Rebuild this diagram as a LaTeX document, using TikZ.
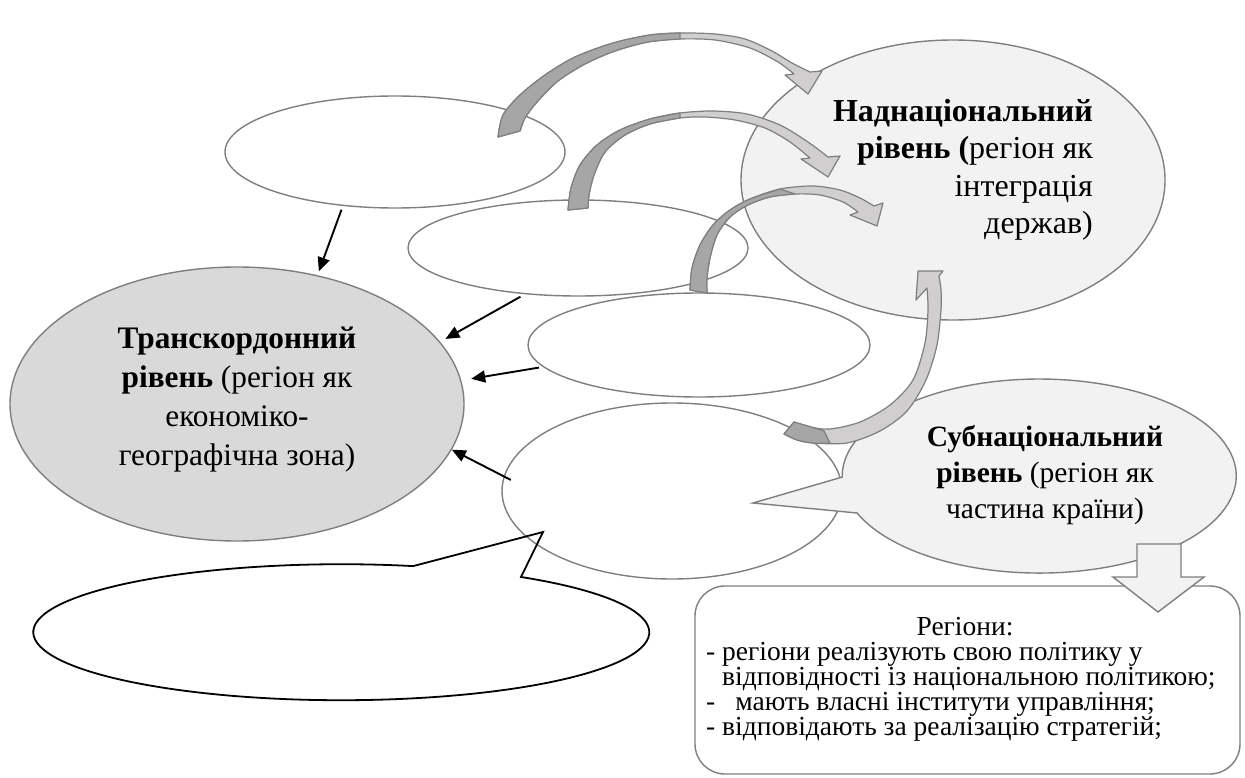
\documentclass[tikz,border=0pt]{standalone}
\usepackage{fontspec}
\setmainfont{Liberation Serif}
\usetikzlibrary{shapes.geometric,arrows.meta}
\definecolor{bord}{HTML}{7F7F7F}
\definecolor{lgray}{HTML}{F2F2F2}
\definecolor{mgray}{HTML}{D9D9D9}
\definecolor{arrl}{HTML}{D0CECE}
\definecolor{arrd}{HTML}{A6A6A6}
\begin{document}
\begin{tikzpicture}[x=1pt,y=1pt,
  ell/.style={ellipse, draw=bord, line width=1.4pt, inner sep=0pt},
  carrow/.style={draw=bord, line width=1.2pt, fill=arrl, line join=round},
  carrowdk/.style={draw=bord, line width=1.2pt, fill=arrd, line join=round},
  blk/.style={black, line width=1.9pt, -{Triangle[length=14pt,width=12pt]}},
  txt/.style={inner sep=0pt},
  boxtxt/.style={inner sep=0pt, anchor=base west, font=\fontsize{27.5}{25}\selectfont}]
\useasboundingbox[fill=white] (0,0) rectangle (1245,-778);

% ellipses
\node[ell, fill=lgray, minimum width=424, minimum height=280] (nad) at (953,-180) {};
\node[ell, fill=mgray, minimum width=454, minimum height=274] (tk) at (237,-404) {};
\node[ell, fill=white, minimum width=340, minimum height=112] (e1) at (395,-152) {};
\node[ell, fill=white, minimum width=340, minimum height=96] (e2) at (578,-248) {};
\node[ell, fill=white, minimum width=342, minimum height=104] (e3) at (699,-345) {};
\node[ell, fill=white, minimum width=340, minimum height=176] (e4) at (672,-491) {};

% black callout
\draw[black, line width=1.8pt, line join=miter]
  (521,-577) arc[start angle=54.3, end angle=-283.5, x radius=308, y radius=68]
  -- (543,-532) -- cycle;

% subnational callout
\draw[draw=bord, fill=lgray, line width=1.4pt]
  (857.1,-513) arc[start angle=202.4, end angle=540.6, x radius=197, y radius=97]
  -- (753,-503) -- cycle;

% texts
\node[txt, align=right, anchor=east, font=\fontsize{32}{37.5}\selectfont] (nadtxt) at (1093,-170)
  {\textbf{Наднаціональний}\\\textbf{рівень (}регіон як\\інтеграція\\держав)};
\node[txt, align=center, font=\fontsize{31.3}{39}\selectfont] (tktxt) at (237,-400)
  {\textbf{Транскордонний}\\\textbf{рівень} (регіон як\\економіко-\\географічна зона)};
\node[txt, align=center, font=\fontsize{29.5}{36}\selectfont] (subtxt) at (1045,-475)
  {\textbf{Субнаціональний}\\\textbf{рівень} (регіон як\\частина країни)};

% curved arrows
\filldraw[carrow] plot[smooth] coordinates {(498,-137) (503,-115) (520,-95) (545,-75) (575,-57) (613,-43) (650,-35) (680,-33) (715,-34) (745,-39) (772,-51) (792,-63) (810,-72)}
  -- (822,-71) -- (808,-94) -- (785,-75) --
  plot[smooth] coordinates {(794,-74) (778,-62) (750,-48) (715,-40) (680,-39) (648,-42) (615,-51) (585,-64) (558,-81) (537,-102) (525,-118) (520,-131)} -- cycle;
\filldraw[carrowdk] plot[smooth] coordinates {(498,-137) (503,-115) (520,-95) (545,-75) (575,-57) (613,-43) (650,-35) (680,-33)}
  -- plot[smooth] coordinates {(680,-39) (648,-42) (615,-51) (585,-64) (558,-81) (537,-102) (525,-118) (520,-131)} -- cycle;

\filldraw[carrow] plot[smooth] coordinates {(568,-210) (571,-188) (580,-165) (597,-145) (620,-130) (650,-119) (680,-113) (713,-111) (747,-114) (780,-125) (808,-142) (828,-157)}
  -- (840,-156) -- (828,-177) -- (801,-159) --
  plot[smooth] coordinates {(810,-158) (790,-142) (765,-128) (735,-120) (705,-117) (680,-118) (650,-124) (625,-135) (605,-152) (594,-175) (589,-195) (588,-208)} -- cycle;
\filldraw[carrowdk] plot[smooth] coordinates {(568,-210) (571,-188) (580,-165) (597,-145) (620,-130) (650,-119) (680,-113)}
  -- plot[smooth] coordinates {(680,-118) (650,-124) (625,-135) (605,-152) (594,-175) (589,-195) (588,-208)} -- cycle;

\filldraw[carrow] plot[smooth] coordinates {(690,-290) (692,-268) (700,-245) (713,-225) (730,-210) (750,-199) (780,-189) (813,-186) (840,-190) (860,-198) (874,-206)}
  -- (883,-203) -- (877,-226) -- (850,-215) --
  plot[smooth] coordinates {(858,-212) (843,-202) (820,-195) (795,-194) (770,-197) (748,-205) (730,-217) (717,-235) (710,-258) (707,-278) (707,-293)} -- cycle;
\filldraw[carrowdk] plot[smooth] coordinates {(690,-290) (692,-268) (700,-245) (713,-225) (730,-210) (750,-199) (780,-189)}
  -- plot[smooth] coordinates {(795,-194) (770,-197) (748,-205) (730,-217) (717,-235) (710,-258) (707,-278) (707,-293)} -- cycle;

\filldraw[carrow] plot[smooth] coordinates {(784,-434) (797,-440) (813,-443) (847,-443) (880,-431) (907,-411) (926,-380) (937,-345) (941,-310) (941,-290) (939,-276)}
  -- (943,-271) -- (918,-271) -- (916,-300) --
  plot[smooth] coordinates {(927,-288) (928,-310) (925,-343) (913,-380) (890,-405) (860,-422) (830,-429) (810,-427) (794,-422)} -- cycle;
\filldraw[carrowdk] plot[smooth] coordinates {(784,-434) (797,-440) (813,-443) (830,-443)}
  -- plot[smooth] coordinates {(824,-431) (808,-426) (794,-422)} -- cycle;

% black arrows
\draw[blk, shorten <=4pt, shorten >=4pt] (e1.226) -- (tk.58);
\draw[blk, shorten <=5pt, shorten >=6pt] (e2.221) -- (tk.17);
\draw[blk, shorten <=4pt, shorten >=10pt] (e3.188) -- (tk.6);
\draw[blk, shorten <=-8pt] (e4.175) -- (tk.348);

% box
\node[draw=bord, line width=1.4pt, rounded corners=30pt, minimum width=545, minimum height=188, inner sep=0pt] (box) at (967.5,-680) {};
\node[txt, font=\fontsize{27.5}{25}\selectfont, anchor=base] (regt) at (965,-635) {Регіони:};
\node[boxtxt] (l1) at (706,-660) {- регіони реалізують свою політику у};
\node[boxtxt] (l2) at (722,-685) {відповідності із національною політикою;};
\node[boxtxt] (l3) at (706,-710) {-\hspace{20pt}мають власні інститути управління;};
\node[boxtxt] (l4) at (706,-735) {- відповідають за реалізацію стратегій;};

% block arrow down
\filldraw[draw=bord, fill=lgray, line width=1.4pt, line join=miter] (1137,-544) -- (1181,-544) -- (1181,-577) -- (1204,-577) -- (1158,-612) -- (1113,-577) -- (1137,-577) -- cycle;
\end{tikzpicture}
\end{document}
